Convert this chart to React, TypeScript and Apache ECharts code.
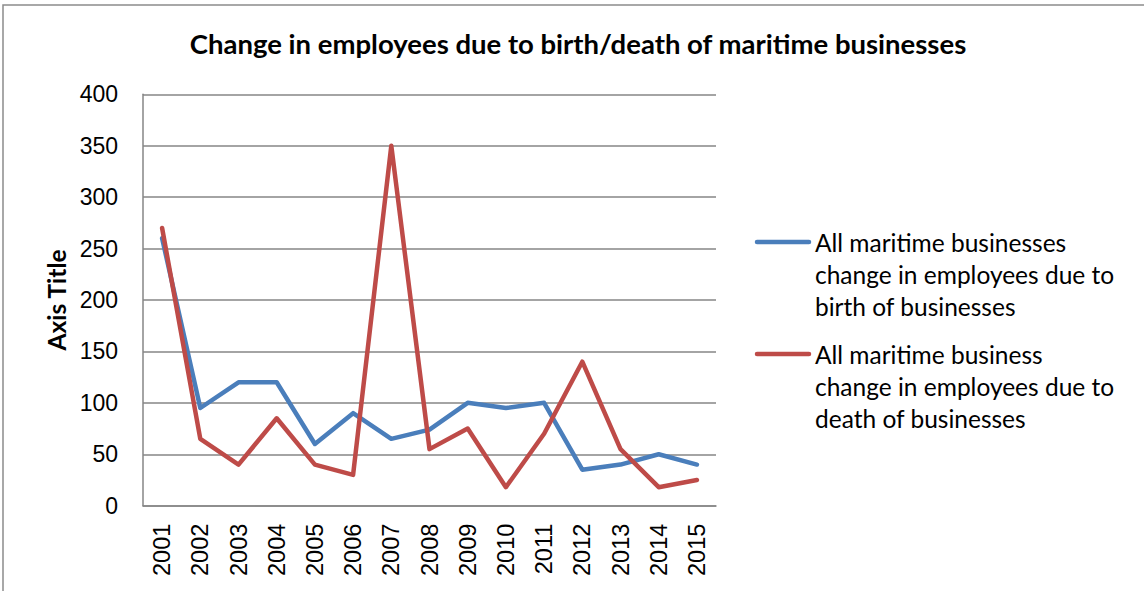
import React, { useEffect, useRef } from "react";
import * as echarts from "echarts";

const years = ["2001","2002","2003","2004","2005","2006","2007","2008","2009","2010","2011","2012","2013","2014","2015"];
const birthValues = [260, 95, 120, 120, 60, 90, 65, 74, 100, 95, 100, 35, 40, 50, 40];
const deathValues = [270, 65, 40, 85, 40, 30, 350, 55, 75, 18, 70, 140, 55, 18, 25];
const seriesNames = [
  "All maritime businesses change in employees due to birth of businesses",
  "All maritime business change in employees due to death of businesses",
];
const legendLines = [
  "All maritime businesses\nchange in employees due to\nbirth of businesses",
  "All maritime business\nchange in employees due to\ndeath of businesses",
];
const titleText = "Change in employees due to birth/death of maritime businesses";
const yAxisTitle = "Axis Title";

const BLUE = "#4A7EBB";
const RED = "#BE4B48";
const GRID = "#868686";

export default function App() {
  const ref = useRef<HTMLDivElement>(null);
  useEffect(() => {
    if (!ref.current) return;
    const chart = echarts.init(ref.current, undefined, { renderer: "svg" });
    const legendY = [242, 354];
    const colors = [BLUE, RED];
    const legendGraphics: any[] = [];
    legendLines.forEach((t, i) => {
      legendGraphics.push({
        type: "line",
        shape: { x1: 757, y1: legendY[i], x2: 809, y2: legendY[i] },
        style: { stroke: colors[i], lineWidth: 4.5, lineCap: "round" },
      });
      legendGraphics.push({
        type: "text",
        x: 815,
        y: legendY[i] - 16,
        style: {
          text: t,
          font: "24.5px Lato",
          fill: "#000",
          lineHeight: 32,
          verticalAlign: "top",
          align: "left",
        },
      });
    });
    chart.setOption({
      animation: false,
      title: {
        text: titleText,
        left: 573,
        textAlign: "center",
        top: 24,
        textStyle: { fontFamily: "Lato", fontWeight: "bold", fontSize: 27.5, color: "#000" },
      },
      grid: { left: 143, top: 94.3, right: 428, bottom: 85.3, containLabel: false },
      xAxis: {
        type: "category",
        data: years,
        boundaryGap: true,
        axisLine: { lineStyle: { color: GRID, width: 1.5 } },
        axisTick: { show: false },
        axisLabel: {
          rotate: 90,
          margin: 18,
          fontFamily: "Liberation Sans",
          fontSize: 23.5,
          color: "#000",
          interval: 0,
        },
      },
      yAxis: {
        type: "value",
        min: 0,
        max: 400,
        interval: 50,
        name: yAxisTitle,
        nameLocation: "middle",
        nameGap: 73,
        nameRotate: 90,
        nameTextStyle: { fontFamily: "Lato", fontWeight: "bold", fontSize: 24.5, color: "#000" },
        axisLine: { show: true, lineStyle: { color: GRID, width: 1.5 } },
        axisTick: { show: false },
        splitLine: { lineStyle: { color: GRID, width: 1.5 } },
        axisLabel: {
          margin: 25,
          fontFamily: "Liberation Sans",
          fontSize: 23,
          color: "#000",
        },
      },
      series: [
        {
          name: seriesNames[0],
          type: "line",
          data: birthValues,
          symbol: "none",
          lineStyle: { color: BLUE, width: 4.5, cap: "round", join: "round" },
          itemStyle: { color: BLUE },
        },
        {
          name: seriesNames[1],
          type: "line",
          data: deathValues,
          symbol: "none",
          lineStyle: { color: RED, width: 4.5, cap: "round", join: "round" },
          itemStyle: { color: RED },
        },
      ],
      graphic: [
        {
          type: "rect",
          shape: { x: 3, y: 5, width: 1200, height: 700 },
          style: { fill: "none", stroke: "#8c8c8c", lineWidth: 1.5 },
          silent: true,
        },
        ...legendGraphics,
      ],
    });
    return () => chart.dispose();
  }, []);
  return (
    <div
      ref={ref}
      style={{ position: "absolute", left: 0, top: 0, width: 1144, height: 591, background: "#fff" }}
    />
  );
}
